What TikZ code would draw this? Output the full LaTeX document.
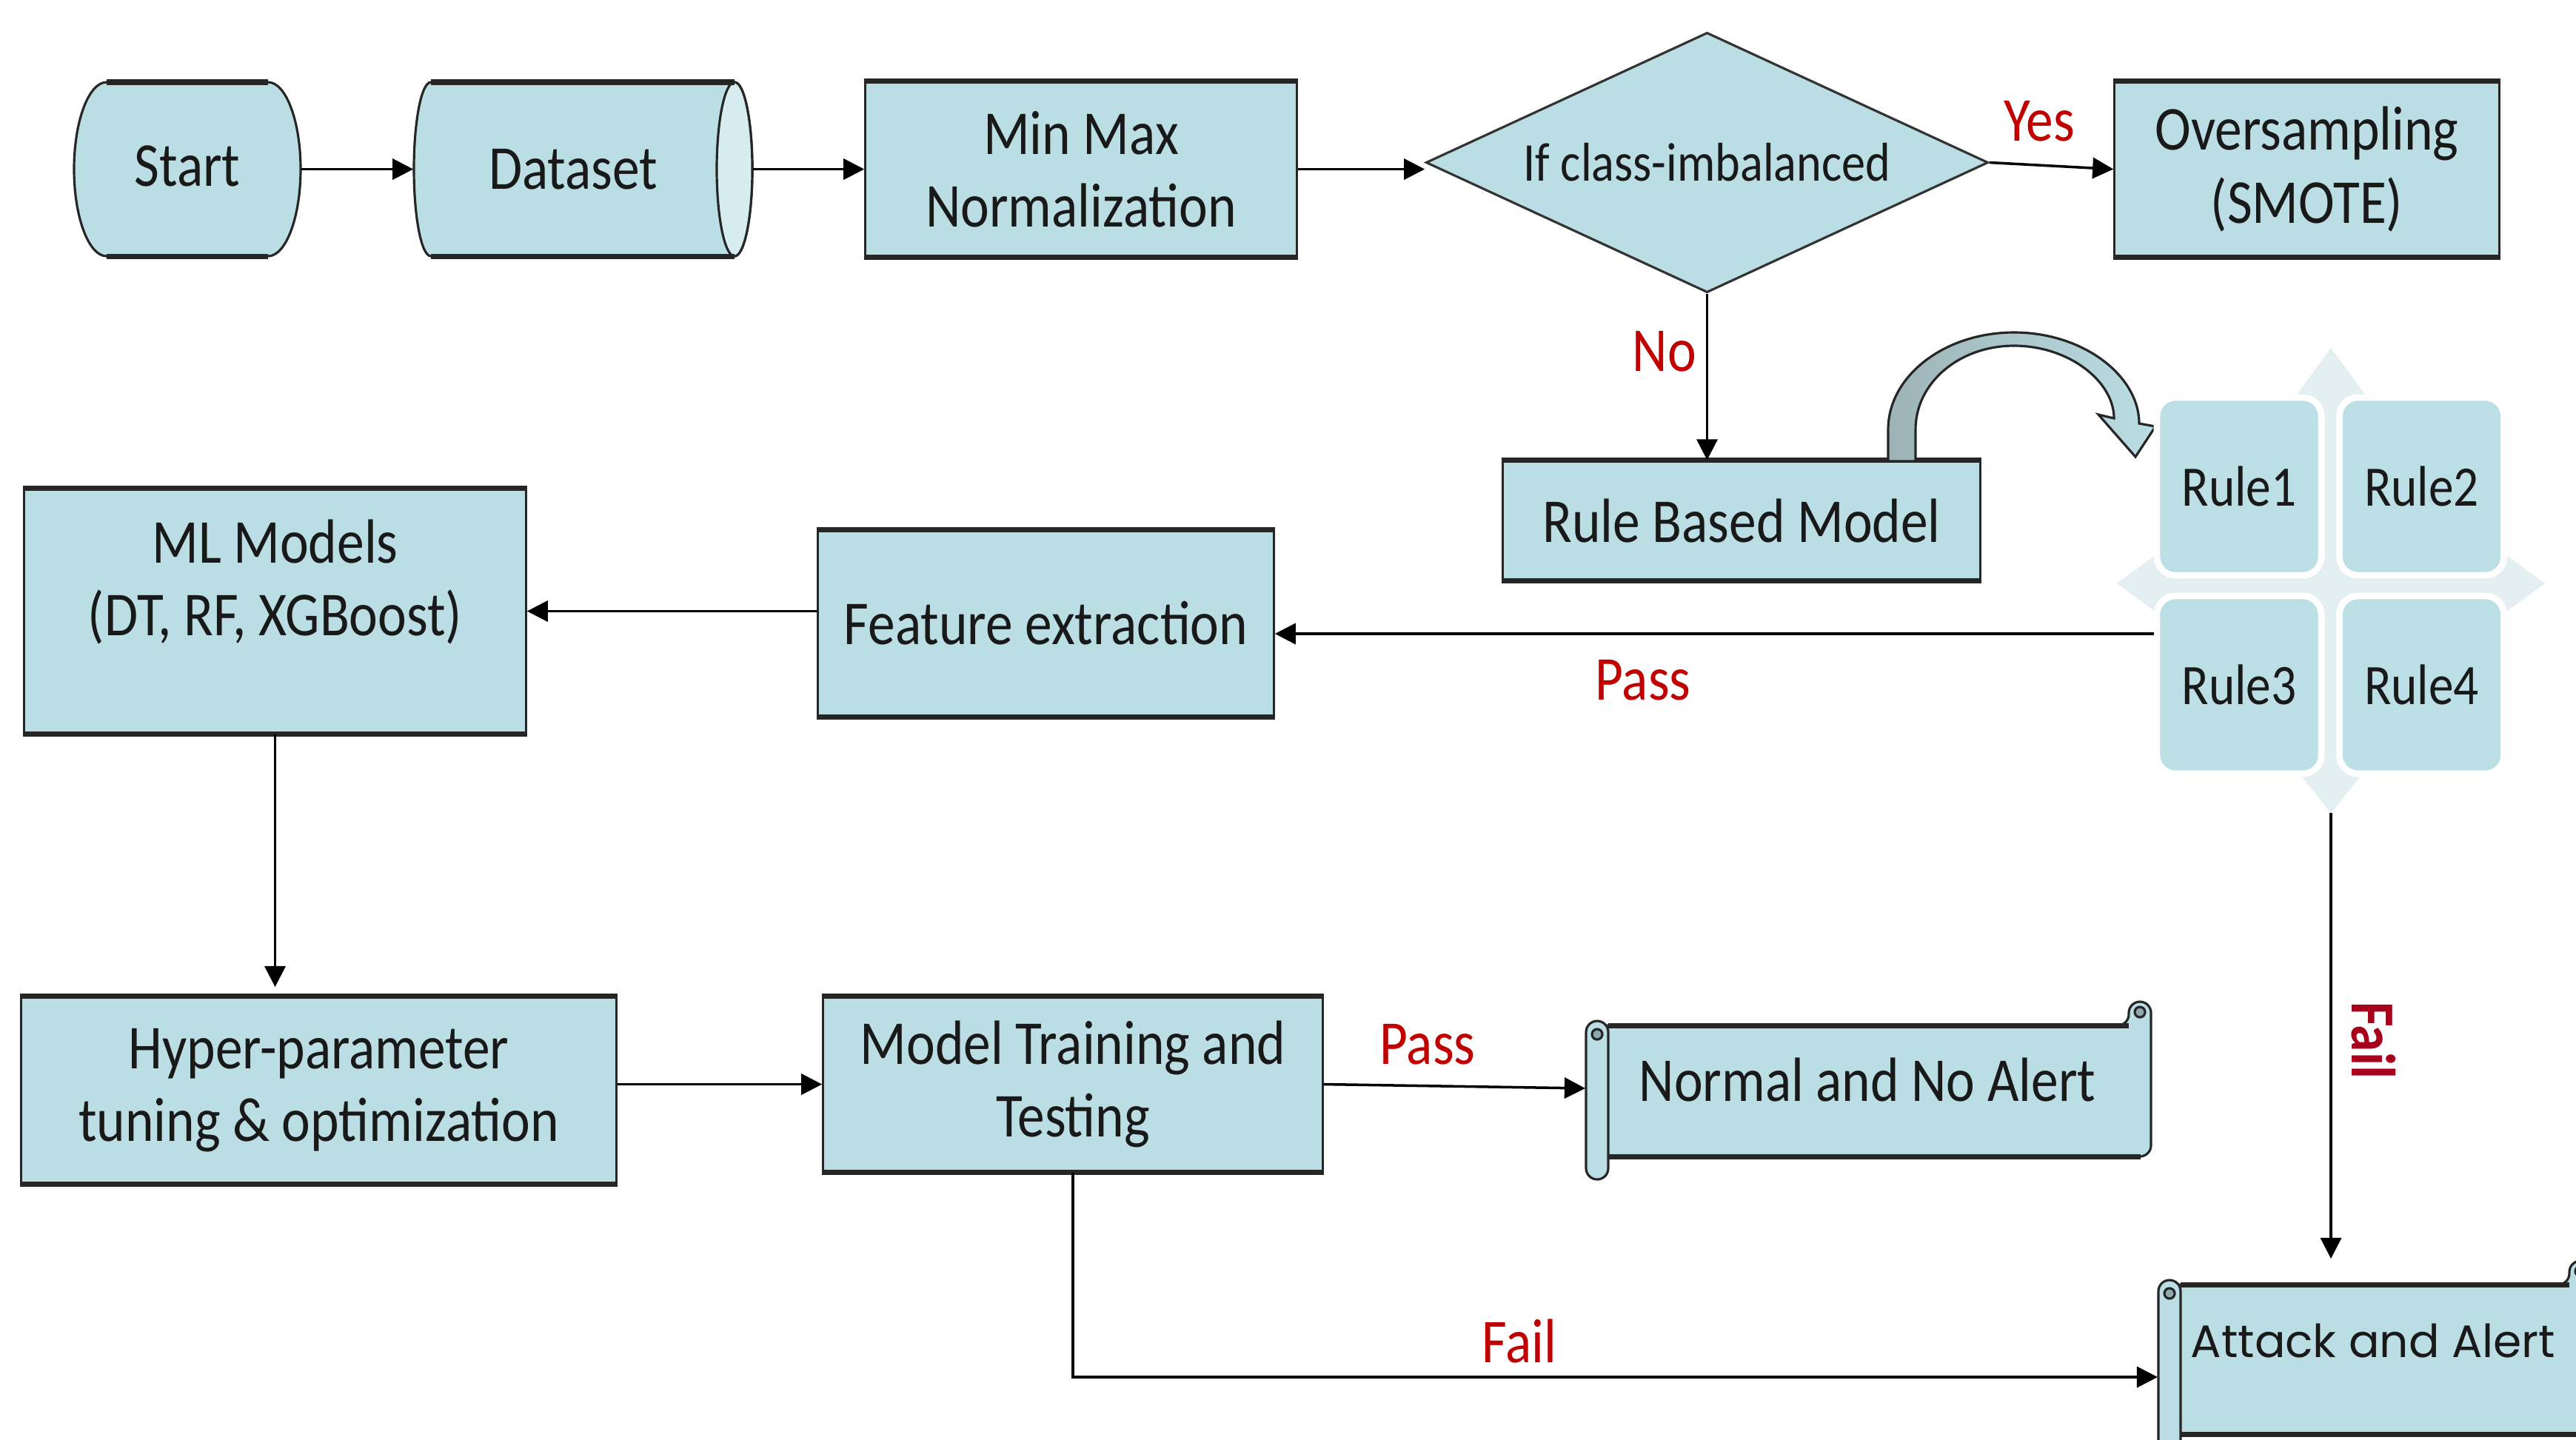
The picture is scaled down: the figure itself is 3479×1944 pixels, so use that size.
\documentclass[tikz,border=0pt]{standalone}
\usepackage{fontspec}
\setmainfont{Carlito}[FakeStretch=0.87]
\newfontfamily\popfont{Poppins}
\usetikzlibrary{shapes.geometric, arrows.meta, calc}
\definecolor{boxfill}{HTML}{BADEE4}
\definecolor{endfill}{HTML}{D6EDF0}
\definecolor{rulefill}{HTML}{BCDFE5}
\definecolor{faint}{HTML}{E3EFF1}
\definecolor{lblred}{HTML}{C00000}
\definecolor{failred}{HTML}{A8001A}
\definecolor{curlfill}{HTML}{8FAAAE}
\definecolor{arrgray}{HTML}{9DB3B6}
\tikzset{
 txt/.style={font=\fontsize{24}{28}\selectfont, text=black!90, align=center, inner sep=0pt},
 procbox/.style={txt, draw=black!85, line width=0.9pt, fill=boxfill},
 edgeline/.style={line width=2pt, draw=black!85},
 conn/.style={line width=1pt, -{Triangle[length=8pt,width=8pt]}},
 lbl/.style={font=\fontsize{24}{28}\selectfont, text=lblred, inner sep=0pt},
 rulebox/.style={txt, font=\fontsize{22}{26}\selectfont, fill=rulefill, draw=white, line width=2.5pt, rounded corners=0.25cm, minimum width=2.22cm, minimum height=2.4cm},
 shapeline/.style={draw=black!85, line width=0.9pt},
}
% L T R B u d
\newcommand{\scrollshape}[6]{%
 \draw[shapeline, fill=boxfill, rounded corners=0.15cm] (#1+15,#2) -- (#3-30,#2) -- (#3-30,#2-#5) -- (#3,#2-#5) -- (#3,#4) -- (#1+15,#4) -- cycle;
 \draw[edgeline] (#1+30,#2) -- (#3-30,#2) (#1+30,#4) -- (#3-14,#4);
 \draw[shapeline, fill=curlfill] (#3-15,#2-#5+14) circle[radius=0.07cm];
 \draw[shapeline, fill=boxfill, rounded corners=0.15cm] (#1,#2-6) rectangle (#1+30,#4+#6);
 \draw[shapeline, fill=curlfill] (#1+15,#2+12) circle[radius=0.07cm];
}
\begin{document}
\begin{tikzpicture}[x=0.01cm, y=-0.01cm]
\useasboundingbox (0,0) rectangle (3479,1944);
\fill[white] (0,0) rectangle (3479,1944);
\clip (0,0) rectangle (3479,1944);

% Start shape
\draw[shapeline, fill=boxfill] (144,111) -- (362,111) .. controls (386.3,111) and (406,164) .. (406,228.5) .. controls (406,293) and (386.3,346) .. (362,346) -- (144,346) .. controls (119.7,346) and (100,293) .. (100,228.5) .. controls (100,164) and (119.7,111) .. (144,111) -- cycle;
\draw[edgeline] (144,111) -- (362,111) (144,346) -- (362,346);
\node[txt, minimum width=3.06cm, minimum height=2.35cm] (start) at (253,224) {Start};

% Dataset shape
\draw[shapeline, fill=boxfill] (582,111) -- (992,111) .. controls (1005.3,111) and (1016,164) .. (1016,228.5) .. controls (1016,293) and (1005.3,346) .. (992,346) -- (582,346) .. controls (569,346) and (559,293) .. (559,228.5) .. controls (559,164) and (569,111) .. (582,111) -- cycle;
\draw[shapeline, fill=endfill] (992,228.5) ellipse [x radius=0.24cm, y radius=1.175cm];
\draw[edgeline] (582,111) -- (992,111) (582,346) -- (992,346);
\node[txt, minimum width=4.57cm, minimum height=2.35cm] (dataset) at (787.5,228.5) {\hspace*{-0.27cm}Dataset};

\node[procbox, minimum width=5.82cm, minimum height=2.35cm] (minmax) at (1460,228.5) {Min Max\\Normalization};
\node[txt, diamond, aspect=2.16, draw=black!80, line width=0.9pt, fill=boxfill, minimum width=7.59cm, minimum height=3.51cm, font=\fontsize{21}{25}\selectfont] (cond) at (2305.5,219.5) {If class-imbalanced};
\node[procbox, minimum width=5.19cm, minimum height=2.35cm] (overs) at (3115.5,228.5) {Oversampling\\(SMOTE)};
\node[procbox, minimum width=6.44cm, minimum height=1.60cm] (rbm) at (2352,703) {Rule Based Model};
\node[procbox, minimum width=6.15cm, minimum height=2.50cm] (fe) at (1412.5,842) {Feature extraction};
\node[procbox, minimum width=6.77cm, minimum height=3.29cm] (ml) at (371.5,825.5) {};
\node[txt] (mltext) at (371.5,786) {ML Models\\(DT, RF, XGBoost)};
\node[procbox, minimum width=8.03cm, minimum height=2.51cm] (hyper) at (430.5,1472.5) {Hyper-parameter\\tuning \& optimization};
\node[procbox, minimum width=6.74cm, minimum height=2.35cm] (mt) at (1449,1464.5) {Model Training and\\Testing};
\foreach \n in {minmax,overs,rbm,fe,ml,hyper,mt} {
  \draw[edgeline] (\n.north west) -- (\n.north east) (\n.south west) -- (\n.south east);
}

% curved arrow
\shade[left color=arrgray, right color=boxfill, draw=black!85, line width=0.9pt]
 (2550,623) -- (2550,580) .. controls (2550,508) and (2626,449) .. (2720,449) .. controls (2814,449) and (2889,508) .. (2889,572) -- (2911,576) -- (2884,617) -- (2834,560) -- (2855,565) .. controls (2855,515) and (2794,467) .. (2720,467) .. controls (2646,467) and (2587,517) .. (2587,580) -- (2587,623) -- cycle;

% rules background
\fill[faint, shift={(3148,788)}] (0,-318) -- (66,-228) -- (32,-228) -- (32,-32) -- (199,-32) -- (199,-66) -- (289,0) -- (199,66) -- (199,32) -- (32,32) -- (32,228) -- (66,228) -- (0,310) -- (-66,228) -- (-32,228) -- (-32,32) -- (-199,32) -- (-199,66) -- (-289,0) -- (-199,-66) -- (-199,-32) -- (-32,-32) -- (-32,-228) -- (-66,-228) -- cycle;
\node[rulebox] (rule1) at (3024,657) {Rule1};
\node[rulebox] (rule2) at (3270.5,657) {Rule2};
\node[rulebox] (rule3) at (3024,925) {Rule3};
\node[rulebox] (rule4) at (3270.5,925) {Rule4};
\coordinate (rulesbottom) at (3148,1098);

% scrolls
\scrollshape{2142}{1385}{2905}{1562}{32}{31}
\node[txt] (normal) at (2522,1458) {Normal and No Alert};
\scrollshape{2915}{1735}{3500}{1937}{32}{60}
\node[inner sep=0pt, anchor=west, font=\popfont\fontsize{17.5}{21}\selectfont, text=black!90] (attack) at (2958,1811) {Attack and Alert};

\coordinate (normalin) at (2141,1470);
\coordinate (attackin) at (2914,1860);
\coordinate (failend) at (3148,1700);
\coordinate (passy) at (0,856);

% connectors
\draw[conn] (start.east |- dataset.west) -- (dataset.west);
\draw[conn] (dataset.east) -- (minmax.west);
\draw[conn] (minmax.east) -- (minmax.east -| cond.west);
\draw[conn] (cond.east) -- (overs.west);
\draw[conn] (cond.south) -- (cond.south |- rbm.north);
\draw[conn] (rule3.west |- passy) -- (fe.east |- passy);
\draw[conn] (fe.west |- ml.east) -- (ml.east);
\draw[conn, shorten >=3.5pt] (ml.south) -- (ml.south |- hyper.north);
\draw[conn] (hyper.east |- mt.west) -- (mt.west);
\draw[conn] (mt.east) -- (normalin);
\draw[conn] (mt.south) |- (attackin);
\draw[conn] (rulesbottom) -- (failend);

% labels
\node[lbl] (yes) at (2754,164) {Yes};
\node[lbl] (no) at (2248,475) {No};
\node[lbl] (pass1) at (2219,919) {Pass};
\node[lbl] (pass2) at (1928,1411) {Pass};
\node[lbl] (fail1) at (2052,1811) {Fail};
\node[lbl, font=\bfseries\fontsize{24}{28}\selectfont, text=failred, rotate=-90] (fail2) at (3206,1405) {Fail};
\end{tikzpicture}
\end{document}
